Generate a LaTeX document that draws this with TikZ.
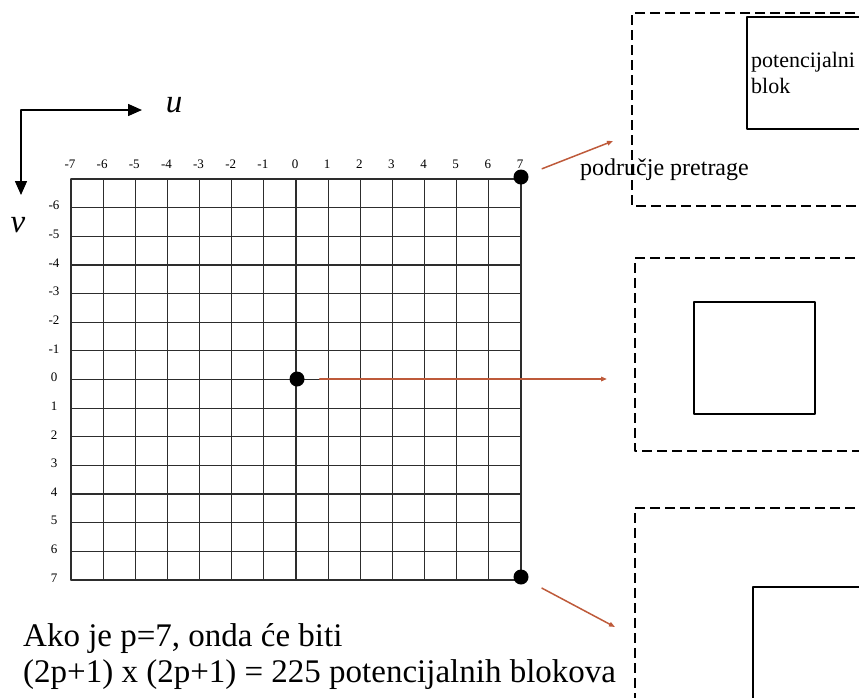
\documentclass[tikz,border=0pt]{standalone}
\usepackage{fontspec}
\setmainfont{Liberation Serif}
\usetikzlibrary{arrows.meta}
\definecolor{ptrcol}{RGB}{190,90,58}
\definecolor{gridcol}{RGB}{45,45,45}

\begin{document}
\begin{tikzpicture}[x=1pt,y=-1pt,line cap=round,line join=round,
  dot/.style={circle,fill=black,inner sep=0pt,minimum size=15pt},
  ptr/.style={draw=ptrcol,line width=1.5pt,-{Triangle[length=6pt,width=4.5pt]}},
  axis/.style={line width=1.5pt,-{Triangle[length=14pt,width=12pt]}},
  gridline/.style={line width=1.2pt,draw=gridcol},
  searchbox/.style={line width=1.2pt,line cap=butt,dash pattern=on 10pt off 5pt},
  blockbox/.style={line width=1.2pt},
  numlbl/.style={font=\fontsize{13}{14}\selectfont,inner sep=0pt},
  txt/.style={inner sep=0pt,anchor=base west}]
\useasboundingbox (0,0) rectangle (859,697);
\clip (0,0) rectangle (859,697);
% axes
\coordinate (o) at (21,110);
\coordinate (ue) at (142,110);
\coordinate (ve) at (21,195);
\draw[axis] (o) -- (ue);
\draw[axis] (o) -- (ve);
\node[font=\fontsize{33}{34}\selectfont\itshape] (ul) at (174,105) {u};
\node[font=\fontsize{33}{34}\selectfont\itshape] (vl) at (18,225) {v};
% grid
\foreach \i in {0,...,14} {
  \draw[gridline] ({71+\i*450/14},179) -- ({71+\i*450/14},580);
  \draw[gridline] (71,{179+\i*401/14}) -- (521,{179+\i*401/14});
}
\foreach \i in {0,...,14} {
  \pgfmathtruncatemacro\n{\i-7}
  \node[numlbl] (cl\i) at ({70+\i*450/14},164) {\n};
}
\foreach \i in {1,...,14} {
  \pgfmathtruncatemacro\n{\i-7}
  \node[numlbl] (rl\i) at (54,{177+\i*401/14}) {\n};
}
% points
\node[dot] (c1) at (521,177) {};
\node[dot] (c0) at (297,379) {};
\node[dot] (c2) at (521,577) {};
\coordinate (t1) at (613,141);
\coordinate (t0) at (607,379);
\coordinate (t2) at (615,627);
\draw[ptr,shorten <=15pt] (c1) -- (t1);
\draw[ptr,shorten <=15pt] (c0) -- (t0);
\draw[ptr,shorten <=16pt] (c2) -- (t2);
% search areas
\draw[searchbox] (900,13) -- (632,13) -- (632,206) -- (900,206);
\draw[blockbox] (900,17) -- (747,17) -- (747,129) -- (900,129);
\draw[searchbox] (900,258) -- (635,258) -- (635,451) -- (900,451);
\draw[blockbox] (694,302) rectangle (815,414);
\draw[searchbox] (900,508) -- (635,508) -- (635,760);
\draw[blockbox] (900,587) -- (753,587) -- (753,760);
% texts
\node[txt,font=\fontsize{24}{26}\selectfont] (pp) at (580,175) {područje pretrage};
\node[txt,align=left,font=\fontsize{22}{26}\selectfont] (pb) at (751,93) {potencijalni\\blok};
\node[txt,align=left,font=\fontsize{33}{36}\selectfont] (note) at (23,682) {Ako je p=7, onda će biti\\(2p+1) x (2p+1) = 225 potencijalnih blokova};
\end{tikzpicture}
\end{document}
